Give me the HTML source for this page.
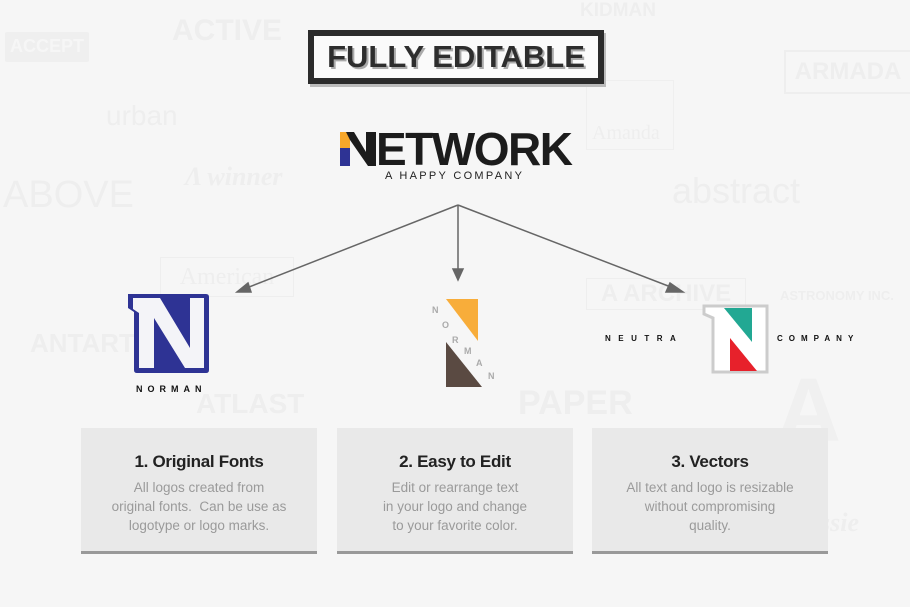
<!DOCTYPE html>
<html><head><meta charset="utf-8"><style>
body{margin:0;width:910px;height:607px;background:#f6f6f6;position:relative;overflow:hidden;font-family:"Liberation Sans",sans-serif}
.a{position:absolute;white-space:nowrap}
.wm{position:absolute;color:#eeeeee;font-weight:bold;white-space:nowrap}
.card{position:absolute;top:428px;width:236px;height:123px;background:#e9e9e9;border-bottom:3px solid #999;text-align:center}
.card h3{margin:24px 0 6px;font-size:17px;color:#222;letter-spacing:-0.3px}
.card p{margin:0;font-size:13.5px;line-height:19px;color:#9a9a9a}
</style></head><body>
<div class="wm" style="left:5px;top:32px;width:84px;height:30px;background:#efefef;color:#f6f6f6;font-size:18px;text-align:center;line-height:28px;border-radius:2px">ACCEPT</div>
<div class="wm" style="left:172px;top:14px;font-size:30px">ACTIVE</div>
<div class="wm" style="left:580px;top:0px;font-size:19px">KIDMAN</div>
<div class="wm" style="left:106px;top:100px;font-size:28px;font-weight:normal">urban</div>
<div class="wm" style="left:3px;top:174px;font-size:38px;font-weight:normal">ABOVE</div>
<div class="wm" style="left:185px;top:162px;font-size:26px;font-style:italic;font-family:'Liberation Serif',serif">&#923; winner</div>
<div class="wm" style="left:586px;top:80px;width:86px;height:68px;border:1px solid #efefef"></div>
<div class="wm" style="left:592px;top:122px;font-size:20px;font-weight:normal;font-family:'Liberation Serif',serif">Amanda</div>
<div class="wm" style="left:784px;top:50px;width:124px;height:40px;border:2px solid #eeeeee;font-size:24px;text-align:center;line-height:40px">ARMADA</div>
<div class="wm" style="left:672px;top:170px;font-size:36px;font-weight:normal">abstract</div>
<div class="wm" style="left:160px;top:257px;width:132px;height:38px;border:1px solid #eeeeee;font-family:'Liberation Serif',serif;font-weight:normal;font-size:24px;line-height:38px;text-align:center">American</div>
<div class="wm" style="left:586px;top:278px;width:158px;height:30px;border:1px solid #eeeeee;font-size:24px;line-height:30px;text-align:center">A ARCHIVE</div>
<div class="wm" style="left:780px;top:288px;font-size:13px">ASTRONOMY INC.</div>
<div class="wm" style="left:30px;top:328px;font-size:26px">ANTARTIKA</div>
<div class="wm" style="left:196px;top:388px;font-size:28px">ATLAST</div>
<div class="wm" style="left:518px;top:384px;font-size:34px">PAPER</div>
<div class="wm" style="left:776px;top:360px;font-size:90px;color:#f0f0f0">A</div>
<div class="wm" style="left:820px;top:508px;font-size:26px;font-style:italic;font-family:'Liberation Serif',serif">ssie</div>

<div class="a" style="left:308px;top:30px;width:284px;height:42px;border:6px solid #2b2b2b;background:#fafafa;box-shadow:2px 3px 0 #bbb;text-align:center;font-weight:900;font-size:31px;line-height:42px;color:#2d2d2d;text-shadow:2px 2px 0 #aaa;letter-spacing:0px">FULLY EDITABLE</div>

<svg class="a" style="left:340px;top:132px" width="36" height="34">
<polygon points="0,0 10,0 10,16 0,16" fill="#f7a72a"/>
<polygon points="0,16 10,16 10,34 0,34" fill="#2e3394"/>
<polygon points="6,0 14,0 26,20 26,0 36,0 36,34 28,34 10,8" fill="#1c1c1c"/>
</svg>
<div class="a" style="left:376px;top:124px;font-size:46px;font-weight:900;color:#1c1c1c;letter-spacing:-1.5px;line-height:50px">ETWORK</div>
<div class="a" style="left:385px;top:170px;font-size:11px;letter-spacing:2.3px;color:#222">A HAPPY COMPANY</div>

<svg class="a" style="left:0;top:0" width="910" height="607">
<g stroke="#666" stroke-width="1.5" fill="#666">
<line x1="458" y1="205" x2="244" y2="289"/>
<line x1="458" y1="205" x2="458" y2="274"/>
<line x1="458" y1="205" x2="676" y2="289"/>
<polygon points="237,292 248,283 251,292"/>
<polygon points="458,280 453,269 463,269"/>
<polygon points="683,292 666,292 670,283"/>
</g>
<path d="M128 294 H206 Q209 294 209 297 V370 Q209 373 206 373 H137 Q134 373 134 370 V312 L128 308 Z" fill="#2e3394"/>
<path d="M133 298 H160 L190 348 V298 H204 V368 H185 L154 318 V368 H139 V313 L133 309 Z" fill="#f4f4f8"/>
<polygon points="446,299 478,299 478,341" fill="#f8ad3a"/>
<polygon points="446,342 446,387 482,387" fill="#5a4a42"/>
<path d="M704 306 H767 V372 H713 V318 L704 314 Z" fill="#fff" stroke="#ccc" stroke-width="3"/>
<polygon points="724,308 752,308 752,342" fill="#22a893"/>
<polygon points="730,338 730,371 757,371" fill="#e7212b"/>
</svg>
<div class="a" style="left:136px;top:384px;font-size:9px;font-weight:bold;letter-spacing:5px;color:#111">NORMAN</div>
<div class="a" style="left:432px;top:305px;font-size:9px;color:#aaa;font-weight:bold">N</div>
<div class="a" style="left:442px;top:320px;font-size:9px;color:#aaa;font-weight:bold">O</div>
<div class="a" style="left:452px;top:335px;font-size:9px;color:#aaa;font-weight:bold">R</div>
<div class="a" style="left:464px;top:346px;font-size:9px;color:#aaa;font-weight:bold">M</div>
<div class="a" style="left:476px;top:358px;font-size:9px;color:#aaa;font-weight:bold">A</div>
<div class="a" style="left:488px;top:371px;font-size:9px;color:#aaa;font-weight:bold">N</div>
<div class="a" style="left:605px;top:334px;font-size:8px;font-weight:bold;letter-spacing:7.5px;color:#111">NEUTRA</div>
<div class="a" style="left:777px;top:334px;font-size:8px;font-weight:bold;letter-spacing:6px;color:#111">COMPANY</div>

<div class="card" style="left:81px"><h3>1. Original Fonts</h3><p>All logos created from<br>original fonts.&nbsp; Can be use as<br>logotype or logo marks.</p></div>
<div class="card" style="left:337px"><h3>2. Easy to Edit</h3><p>Edit or rearrange text<br>in your logo and change<br>to your favorite color.</p></div>
<div class="card" style="left:592px"><h3>3. Vectors</h3><p>All text and logo is resizable<br>without compromising<br>quality.</p></div>
</body></html>
